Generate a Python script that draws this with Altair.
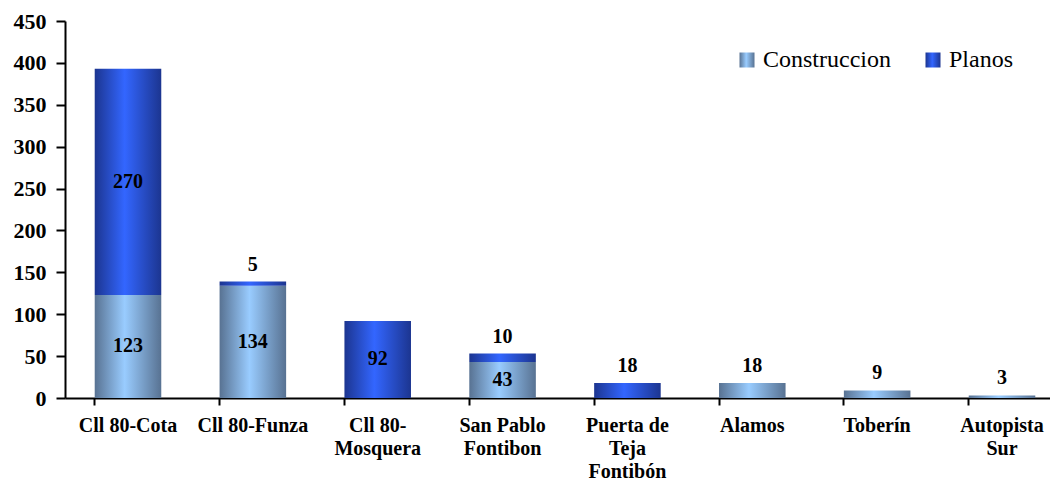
import altair as alt
import pandas as pd

categories = ["Cll 80-Cota", "Cll 80-Funza", "Cll 80-|Mosquera", "San Pablo|Fontibon",
              "Puerta de|Teja|Fontibón", "Alamos", "Toberín", "Autopista|Sur"]
construccion = [123, 134, 0, 43, 0, 18, 9, 3]
planos = [270, 5, 92, 10, 18, 0, 0, 0]
series = ["Construccion", "Planos"]
y_ticks = [0, 50, 100, 150, 200, 250, 300, 350, 400, 450]

FONT = "Liberation Serif"

rows = []
for i, cat in enumerate(categories):
    total = construccion[i] + planos[i]
    base = 0
    for s, vals in zip(series, [construccion, planos]):
        v = vals[i]
        if v > 0:
            inside = v >= 40
            rows.append({"cat": cat, "serie": s, "value": v, "order": series.index(s),
                         "ypos": base + v / 2 if inside else total,
                         "pos": "in" if inside else "out"})
        base += v
df = pd.DataFrame(rows)

grad_c = ("{gradient: 'linear', x1: 0, y1: 0, x2: 1, y2: 0, stops: ["
          "{offset: 0, color: '#587292'}, {offset: 0.45, color: '#99ccff'}, {offset: 1, color: '#587292'}]}")
grad_p = ("{gradient: 'linear', x1: 0, y1: 0, x2: 1, y2: 0, stops: ["
          "{offset: 0, color: '#1c3590'}, {offset: 0.45, color: '#3366ff'}, {offset: 1, color: '#1c3590'}]}")

xenc = alt.X("cat:N", sort=categories,
             scale=alt.Scale(range=[0, 1000], paddingInner=0.467, paddingOuter=0.238),
             axis=alt.Axis(title=None, labelAngle=0, labelExpr="split(datum.label, '|')",
                           labelFont=FONT, labelFontSize=20, labelFontWeight="bold",
                           labelColor="black", labelLineHeight=23, labelPadding=10,
                           domainColor="black", domainWidth=2, tickColor="black",
                           tickWidth=2, tickSize=7, bandPosition=0, grid=False))
yscale = alt.Scale(domain=[0, 450], nice=False)

bars = alt.Chart(df).mark_bar(strokeWidth=0).encode(
    x=xenc,
    y=alt.Y("value:Q", stack="zero", scale=yscale,
            axis=alt.Axis(title=None, values=y_ticks, labelFont=FONT, labelFontSize=22,
                          labelFontWeight="bold", labelColor="black", labelPadding=10,
                          domainColor="black", domainWidth=2, tickColor="black",
                          tickWidth=2, tickSize=9, grid=False)),
    color=alt.Color("serie:N", scale=alt.Scale(domain=series,
                                                range=[{"expr": grad_c}, {"expr": grad_p}]),
                    legend=alt.Legend(title=None, orient="none", legendX=670, legendY=27,
                                      direction="horizontal", symbolType="square",
                                      symbolSize=225, symbolStrokeWidth=0,
                                      labelFont=FONT, labelFontSize=24, labelColor="black",
                                      labelOffset=4, columnPadding=30, padding=0)),
    order=alt.Order("order:Q"),
)

txt_in = alt.Chart(df).transform_filter("datum.pos == 'in'").mark_text(
    font=FONT, fontSize=20, fontWeight="bold", color="black", baseline="middle"
).encode(x=alt.X("cat:N", sort=categories), y=alt.Y("ypos:Q", scale=yscale), text="value:Q")

txt_out = alt.Chart(df).transform_filter("datum.pos == 'out'").mark_text(
    font=FONT, fontSize=20, fontWeight="bold", color="black", baseline="alphabetic", dy=-11
).encode(x=alt.X("cat:N", sort=categories), y=alt.Y("ypos:Q", scale=yscale), text="value:Q")

chart = alt.layer(bars, txt_in, txt_out).properties(
    width=985, height=377,
    autosize=alt.AutoSizeParams(type="none"),
    padding={"left": 57, "top": 13, "right": 0, "bottom": 82},
).configure_view(stroke=None)

chart.save("out.html", embed_options={"renderer": "svg", "actions": False})
